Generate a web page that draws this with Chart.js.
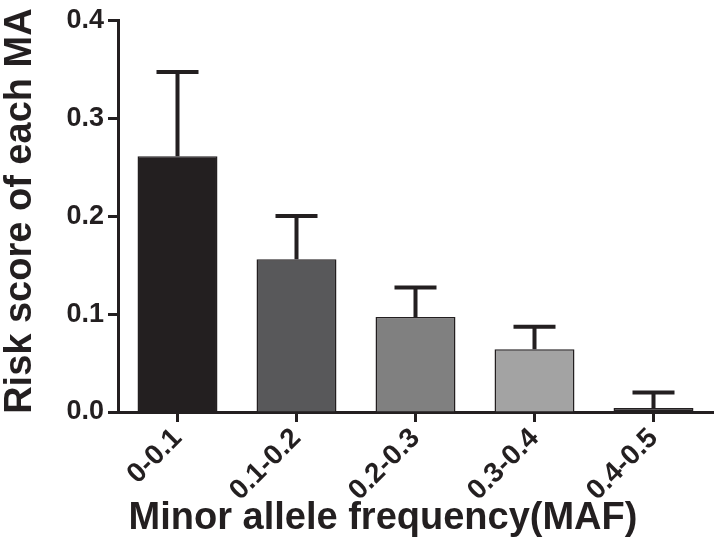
<!DOCTYPE html>
<html>
<head>
<meta charset="utf-8">
<script src="https://cdn.jsdelivr.net/npm/chart.js@4"></script>
<style>
  html, body { margin: 0; padding: 0; background: #fff; }
  canvas { display: block; }
</style>
</head>
<body>
<canvas id="myChart" width="719" height="541"></canvas>
<script>
// data
var categories = ["0-0.1", "0.1-0.2", "0.2-0.3", "0.3-0.4", "0.4-0.5"];
var riskScore = [0.261, 0.156, 0.097, 0.064, 0.004];
var riskSem = [0.086, 0.044, 0.030, 0.023, 0.016];
var barColors = ["#231f20", "#58585a", "#808080", "#a3a3a3", "#231f20"];
var yTicks = [0.0, 0.1, 0.2, 0.3, 0.4];
var xTitle = "Minor allele frequency(MAF)";
var yTitle = "Risk score of each MA";

var ink = "#231f20";
var fam = "'Liberation Sans', Arial, sans-serif";

// upward error bars (mean + sem)
var errorBars = {
    id: 'errorBars',
    afterDatasetsDraw: function(chart) {
        var ctx = chart.ctx;
        var meta = chart.getDatasetMeta(0);
        var y = chart.scales.y;
        ctx.save();
        ctx.strokeStyle = ink;
        ctx.lineWidth = 4;
        for (var i = 0; i < meta.data.length; i++) {
            var bx = meta.data[i].x;
            var y0 = y.getPixelForValue(riskScore[i]);
            var y1 = y.getPixelForValue(riskScore[i] + riskSem[i]);
            ctx.beginPath();
            ctx.moveTo(bx, y0);
            ctx.lineTo(bx, y1);
            ctx.moveTo(bx - 21, y1);
            ctx.lineTo(bx + 21, y1);
            ctx.stroke();
        }
        ctx.restore();
    }
};

// axis titles placed like the original
var axisTitles = {
    id: 'axisTitles',
    afterDraw: function(chart) {
        var ctx = chart.ctx;
        var area = chart.chartArea;
        ctx.save();
        ctx.fillStyle = ink;
        ctx.font = "bold 38px " + fam;
        ctx.textAlign = "center";
        ctx.textBaseline = "alphabetic";
        ctx.fillText(xTitle, area.left + 265, 529);

        ctx.translate(21, (area.top + area.bottom) / 2 - 5);
        ctx.rotate(-Math.PI / 2);
        ctx.font = "bold 38px " + fam;
        ctx.textBaseline = "middle";
        ctx.fillText(yTitle, 0, 0);
        ctx.restore();
    }
};

var ctx = document.getElementById("myChart");
var myBarChart = new Chart(ctx, {
    type: 'bar',
    data: {
        labels: categories,
        datasets: [{
            data: riskScore,
            backgroundColor: barColors,
            borderColor: ink,
            borderWidth: 1.5,
            barPercentage: 0.672,
            categoryPercentage: 1.0
        }]
    },
    options: {
        responsive: false,
        animation: false,
        layout: { padding: { top: 14, right: 6, left: 0, bottom: 0 } },
        plugins: {
            legend: { display: false },
            tooltip: { enabled: false }
        },
        scales: {
            x: {
                offset: true,
                afterFit: function(scale) { scale.height = 129; },
                grid: {
                    offset: false,
                    drawOnChartArea: false,
                    tickLength: 10,
                    tickWidth: 3,
                    tickColor: ink
                },
                border: { color: ink, width: 3 },
                ticks: {
                    color: ink,
                    font: { family: fam, size: 28, weight: 'bold' },
                    minRotation: 45,
                    maxRotation: 45,
                    padding: 0
                }
            },
            y: {
                min: 0,
                max: 0.4,
                afterFit: function(scale) { scale.width = 118; },
                afterBuildTicks: function(scale) {
                    scale.ticks = yTicks.map(function(v) { return { value: v }; });
                },
                grid: {
                    drawOnChartArea: false,
                    tickLength: 10,
                    tickWidth: 3,
                    tickColor: ink
                },
                border: { color: ink, width: 3 },
                ticks: {
                    color: ink,
                    font: { family: fam, size: 27, weight: 'bold' },
                    padding: 4,
                    callback: function(v) { return Number(v).toFixed(1); }
                }
            }
        }
    },
    plugins: [errorBars, axisTitles]
});
</script>
</body>
</html>
